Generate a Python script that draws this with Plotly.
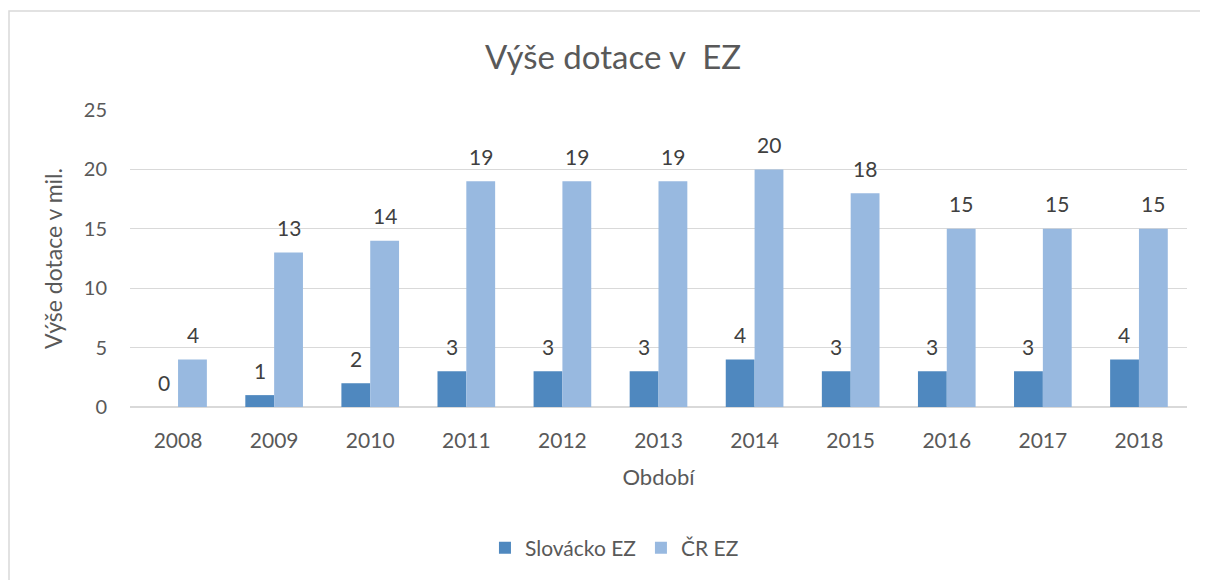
import plotly.graph_objects as go

years = ["2008", "2009", "2010", "2011", "2012", "2013", "2014", "2015", "2016", "2017", "2018"]
slovacko = [0, 1, 2, 3, 3, 3, 4, 3, 3, 3, 4]
cr = [4, 13, 14, 19, 19, 19, 20, 18, 15, 15, 15]

# page body has an 8px margin, so the figure is drawn 8px in and shortened to fit
W, H = 1200, 572
grey = "#595959"
font = "Lato, 'Open Sans', sans-serif"

fig = go.Figure()
fig.add_trace(go.Bar(x=years, y=slovacko, name="Slovácko EZ",
                     marker=dict(color="#4F88BF", line=dict(width=0))))
fig.add_trace(go.Bar(x=years, y=cr, name="ČR EZ",
                     marker=dict(color="#98B9E0", line=dict(width=0))))

# value labels above the bars (category axis -> annotation x is the category index)
for vals, shift in [(slovacko, -14.5), (cr, 14.5)]:
    for i, v in enumerate(vals):
        fig.add_annotation(x=i, y=v, text=str(v), showarrow=False,
                           xshift=shift, yshift=25, yanchor="middle",
                           font=dict(size=21, color="#404040", family=font))

fig.update_layout(
    width=W, height=H,
    autosize=False,
    paper_bgcolor="white", plot_bgcolor="white",
    font=dict(family=font, color=grey),
    barmode="group",
    bargap=0.4, bargroupgap=0,
    title=dict(text="Výše dotace v  EZ", x=605 / W, xanchor="center",
               y=1 - 49 / H, yanchor="middle",
               font=dict(size=33, color=grey)),
    margin=dict(l=122, r=21, t=102, b=173, pad=0),
    xaxis=dict(
        type="category",
        title=dict(text="Období", font=dict(size=22, color=grey), standoff=18),
        tickfont=dict(size=21, color=grey),
        showline=True, linecolor="#D9D9D9", linewidth=1,
        ticks="", showgrid=False, ticklabelstandoff=15,
    ),
    yaxis=dict(
        title=dict(text="Výše dotace v mil.", font=dict(size=23, color=grey), standoff=14),
        tickfont=dict(size=20, color=grey),
        range=[0, 25], dtick=5,
        showgrid=True, gridcolor="#D9D9D9", gridwidth=1,
        zeroline=True, zerolinecolor="#D9D9D9",
        ticks="", ticklabelstandoff=22,
    ),
    legend=dict(
        orientation="h", x=550 / W, xanchor="center",
        y=-(540 - 399) / (399 - 102), yanchor="middle",
        font=dict(size=21, color=grey),
        itemwidth=30, traceorder="normal",
    ),
)

# chart frame (cropped on the right and bottom in the original)
pw, ph = W - 122 - 21, 399 - 102
fig.add_shape(type="rect", xref="paper", yref="paper",
              x0=(1 - 122) / pw, x1=(1400 - 122) / pw,
              y0=-(800 - 399) / ph, y1=1 + (102 - 3) / ph,
              line=dict(color="#D9D9D9", width=1.5), layer="below")

fig.write_html("out.html")
